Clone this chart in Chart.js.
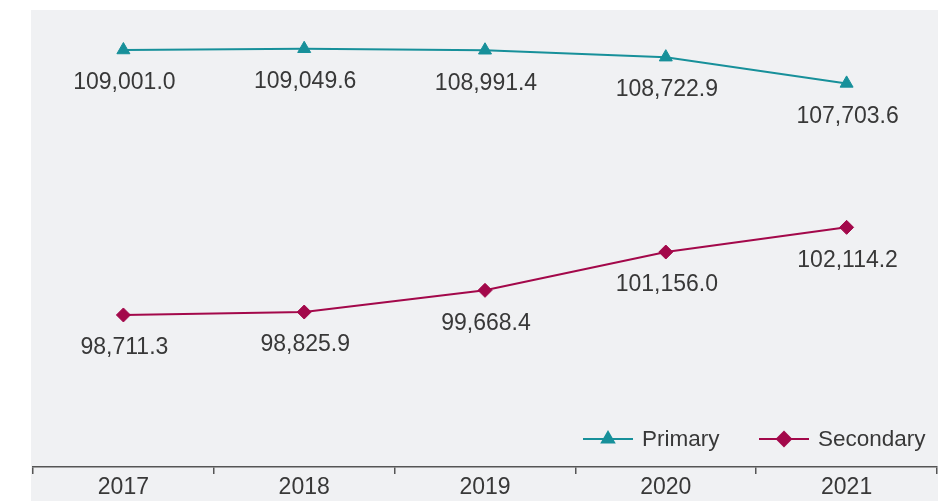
<!DOCTYPE html>
<html>
<head>
<meta charset="utf-8">
<script src="https://cdn.jsdelivr.net/npm/chart.js@4/dist/chart.umd.min.js"></script>
<style>
  body { margin: 0; background: #ffffff; }
</style>
</head>
<body>
<canvas id="myChart" width="947" height="501"></canvas>
<script>
// Data
const years = ['2017', '2018', '2019', '2020', '2021'];
const primary = [109001.0, 109049.6, 108991.4, 108722.9, 107703.6];
const secondary = [98711.3, 98825.9, 99668.4, 101156.0, 102114.2];

const teal = '#17909a';
const maroon = '#a3084a';
const textColor = '#383838';
const fontFamily = '"Liberation Sans", Arial, Helvetica, sans-serif';

function formatValue(v) {
    return v.toLocaleString('en-US', { minimumFractionDigits: 1, maximumFractionDigits: 1 });
}

// Grey panel behind the chart
const panelPlugin = {
    id: 'panel',
    beforeDraw: function (chart) {
        var ctx = chart.ctx;
        ctx.save();
        ctx.fillStyle = '#ffffff';
        ctx.fillRect(0, 0, chart.width, chart.height);
        ctx.fillStyle = '#f0f1f3';
        ctx.fillRect(31, 10, 907, chart.height - 10);
        ctx.restore();
    }
};

// Value labels under every point
const labelPlugin = {
    id: 'valueLabels',
    afterDatasetsDraw: function (chart) {
        var ctx = chart.ctx;
        ctx.save();
        ctx.font = '23px ' + fontFamily;
        ctx.fillStyle = textColor;
        ctx.textAlign = 'center';
        ctx.textBaseline = 'middle';
        chart.data.datasets.forEach(function (ds, i) {
            var meta = chart.getDatasetMeta(i);
            meta.data.forEach(function (pt, j) {
                ctx.fillText(formatValue(ds.data[j]), pt.x + 1, pt.y + 33);
            });
        });
        ctx.restore();
    }
};

// Legend drawn inside the plot, bottom right
const legendPlugin = {
    id: 'lineLegend',
    afterDraw: function (chart) {
        var ctx = chart.ctx;
        var items = [
            { text: 'Primary', color: teal, style: 'triangle', x: 583 },
            { text: 'Secondary', color: maroon, style: 'rectRot', x: 759 }
        ];
        var y = 439;
        ctx.save();
        items.forEach(function (it) {
            ctx.strokeStyle = it.color;
            ctx.lineWidth = 2;
            ctx.beginPath();
            ctx.moveTo(it.x, y);
            ctx.lineTo(it.x + 50, y);
            ctx.stroke();
            Chart.helpers.drawPoint(ctx, {
                pointStyle: it.style,
                radius: 7,
                borderWidth: 1,
                rotation: 0
            }, it.x + 25, y);
            ctx.fillStyle = it.color;
            ctx.fill();
            ctx.fillStyle = textColor;
            ctx.font = '22.5px ' + fontFamily;
            ctx.textAlign = 'left';
            ctx.textBaseline = 'middle';
            ctx.fillText(it.text, it.x + 59, y + 1);
        });
        ctx.restore();
    }
};

var ctx = document.getElementById('myChart').getContext('2d');

new Chart(ctx, {
    type: 'line',
    data: {
        labels: years,
        datasets: [{
            label: 'Primary',
            data: primary,
            borderColor: teal,
            backgroundColor: teal,
            borderWidth: 2,
            pointStyle: 'triangle',
            pointRadius: 7.5,
            pointBorderWidth: 1
        }, {
            label: 'Secondary',
            data: secondary,
            borderColor: maroon,
            backgroundColor: maroon,
            borderWidth: 2,
            pointStyle: 'rectRot',
            pointRadius: 7,
            pointBorderWidth: 1
        }]
    },
    options: {
        responsive: false,
        animation: false,
        devicePixelRatio: 1,
        layout: {
            padding: { left: 33, right: 10, top: 10, bottom: 0 }
        },
        plugins: {
            legend: { display: false },
            tooltip: { enabled: false }
        },
        scales: {
            x: {
                offset: true,
                border: { color: '#555555', width: 1.5 },
                grid: {
                    offset: true,
                    drawOnChartArea: false,
                    color: '#555555',
                    lineWidth: 1.5,
                    tickLength: 7
                },
                ticks: {
                    color: textColor,
                    font: { size: 23, family: fontFamily },
                    padding: 0
                },
                // axis band fixed so the plot ends where the reference's does
                afterFit: function (scale) {
                    scale.height = 34;
                }
            },
            y: {
                display: false,
                min: 92808,
                max: 110554
            }
        }
    },
    plugins: [panelPlugin, labelPlugin, legendPlugin]
});
</script>
</body>
</html>
